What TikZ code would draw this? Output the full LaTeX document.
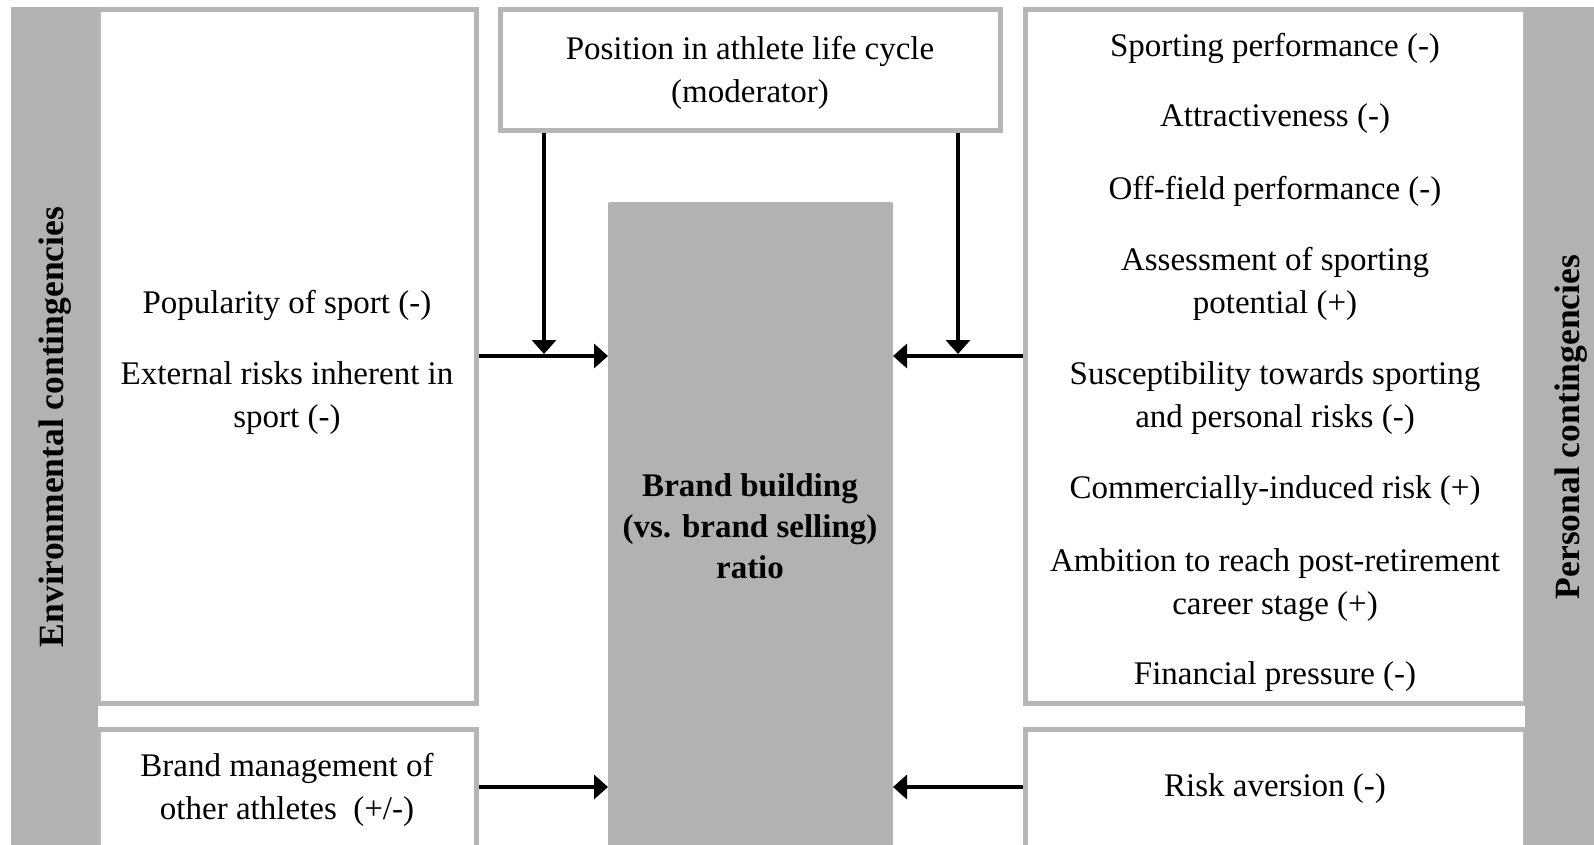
\documentclass[tikz,border=0pt]{standalone}
\usepackage{fontspec}
\setmainfont{Liberation Serif}
\usetikzlibrary{arrows.meta}
\definecolor{gfill}{RGB}{178,178,178}
\definecolor{gline}{RGB}{182,182,182}
\begin{document}
\begin{tikzpicture}[x=1pt,y=-1pt,
  frame/.style={draw=gline, line width=4.5pt, fill=white, inner sep=0pt, anchor=north west},
  bar/.style={fill=gfill, draw=none, inner sep=0pt, outer sep=0pt, anchor=north west},
  corebox/.style={fill=gfill, draw=none, rounded corners=2pt, inner sep=0pt, outer sep=0pt, anchor=north west},
  txt/.style={font=\fontsize{33}{43.5}\selectfont, align=center, inner sep=0pt},
  bold/.style={font=\fontsize{33}{41}\selectfont\bfseries, align=center, inner sep=0pt},
  lbl/.style={font=\fontsize{35.5}{40}\selectfont\bfseries, rotate=90, inner sep=0pt},
  arr/.style={line width=4pt, -{Triangle[length=14pt,width=24pt]}}]

\clip (0,0) rectangle (1594,844);
\fill[white] (0,0) rectangle (1594,844);

% boxes
\node[frame, minimum width=378, minimum height=694] (env) at (96,7) {};
\node[frame, minimum width=378, minimum height=200] (envb) at (96,727) {};
\node[frame, minimum width=500, minimum height=121] (mod) at (498,7) {};
\node[corebox, minimum width=285, minimum height=700] (core) at (608,202) {};
\node[frame, minimum width=500, minimum height=694] (pers) at (1023,7) {};
\node[frame, minimum width=500, minimum height=200] (persb) at (1023,727) {};

% side bars
\node[bar, minimum width=87, minimum height=860] (lbar) at (11,7) {};
\node[bar, minimum width=80, minimum height=860] (rbar) at (1525,7) {};

% side labels
\node[lbl] (lbltxt) at (55,427) {Environmental contingencies};
\node[lbl] (rbltxt) at (1571,427) {Personal contingencies};

% texts
\node[txt] (tmod) at (750,73) {Position in athlete life cycle\\(moderator)};
\node[bold] (tcore) at (750,526) {Brand building\\(vs. brand selling)\\ratio};

\node[txt] (l1) at (287,305) {Popularity of sport (-)};
\node[txt] (l2) at (287,398) {External risks inherent in\\sport (-)};
\node[txt] (l3) at (287,790) {Brand management of\\other athletes\ \ (+/-)};

\node[txt] (r1) at (1275,48) {Sporting performance (-)};
\node[txt] (r2) at (1275,119) {Attractiveness (-)};
\node[txt] (r3) at (1275,191) {Off-field performance (-)};
\node[txt] (r4) at (1275,284) {Assessment of sporting\\potential (+)};
\node[txt] (r5) at (1275,398) {Susceptibility towards sporting\\and personal risks (-)};
\node[txt] (r6) at (1275,491) {Commercially-induced risk (+)};
\node[txt] (r7) at (1275,585) {Ambition to reach post-retirement\\career stage (+)};
\node[txt] (r8) at (1275,677) {Financial pressure (-)};
\node[txt] (r9) at (1275,789) {Risk aversion (-)};

% connectors
\coordinate (ytop) at (0,356);
\coordinate (ybot) at (0,787);
\coordinate (vl) at (544,0);
\coordinate (vr) at (958,0);

\draw[arr] (env.east |- ytop) -- (core.west |- ytop);
\draw[arr] (pers.west |- ytop) -- (core.east |- ytop);
\draw[arr] (envb.east |- ybot) -- (core.west |- ybot);
\draw[arr] (persb.west |- ybot) -- (core.east |- ybot);
\draw[arr, shorten >=2pt] (mod.south -| vl) -- (vl |- ytop);
\draw[arr, shorten >=2pt] (mod.south -| vr) -- (vr |- ytop);
\end{tikzpicture}
\end{document}
